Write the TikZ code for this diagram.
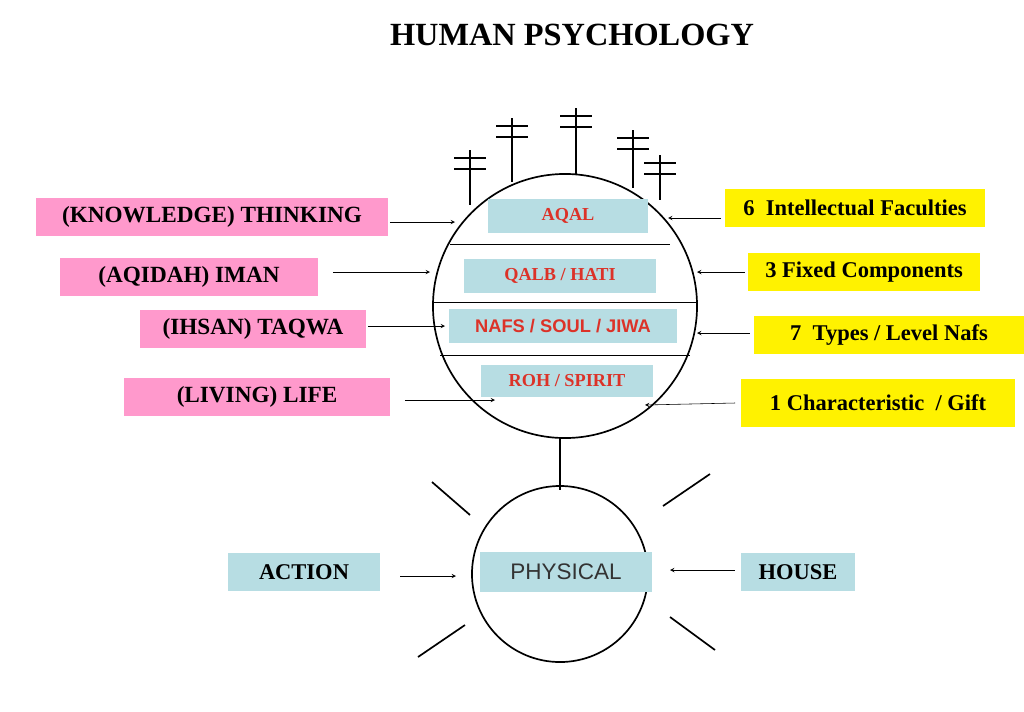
\documentclass[tikz,border=0pt]{standalone}
\usepackage{fontspec}
\setmainfont{Liberation Serif}
\setsansfont{Liberation Sans}
\usetikzlibrary{positioning, calc}
\usetikzlibrary{arrows}
\definecolor{pinkbox}{RGB}{255,153,204}
\definecolor{bluebox}{RGB}{183,221,227}
\definecolor{redtxt}{RGB}{220,50,40}
\tikzset{
  pinklabel/.style={fill=pinkbox,inner sep=0pt,font=\bfseries\fontsize{16.5}{18}\selectfont},
  yellowlabel/.style={fill=yellow,inner sep=0pt,font=\bfseries\fontsize{16}{18}\selectfont},
  part/.style={fill=bluebox,inner sep=0pt,text=redtxt,font=\bfseries\fontsize{13}{15}\selectfont},
  arr/.style={-stealth,thin},
  antenna/.style={thick}
}
\begin{document}
\begin{tikzpicture}[x=0.025cm,y=-0.025cm]
\useasboundingbox (0,0) rectangle (1024,711);
\node (title) at (572,35) {\bfseries\fontsize{23}{26}\selectfont HUMAN PSYCHOLOGY};
% upper circle
\node[draw,circle,very thick,minimum size=6.6cm] (soul) at (565,306) {};
\draw (450,244) -- (670,244);
\draw (432,302) -- (698,302);
\draw (440,355) -- (690,355);
\node[part,minimum width=4cm,minimum height=0.85cm] (aqal) at (568,216) {AQAL};
\node[part,minimum width=4.8cm,minimum height=0.85cm] (qalb) at (560,276) {QALB / HATI};
\node[part,minimum width=5.7cm,minimum height=0.85cm,font=\sffamily\bfseries\fontsize{13}{15}\selectfont] (nafs) at (563,326) {NAFS / SOUL / JIWA};
\node[part,minimum width=4.3cm,minimum height=0.82cm] (roh) at (567,381) {ROH / SPIRIT};
% antennas
\foreach \x/\t/\b in {470/150/205,512/118/182,576/108/175,633/130/188,660/155/200}{
  \draw[antenna] (\x,\t) -- (\x,\b);
  \draw[antenna] (\x-16,\t+8) -- (\x+16,\t+8);
  \draw[antenna] (\x-16,\t+19) -- (\x+16,\t+19);
}
% left labels
\node[pinklabel,minimum width=8.78cm,minimum height=0.95cm] (think) at (212,217) {(KNOWLEDGE) THINKING};
\node[pinklabel,minimum width=6.43cm,minimum height=0.93cm] (iman) at (189,277) {(AQIDAH) IMAN};
\node[pinklabel,minimum width=5.65cm,minimum height=0.93cm] (taqwa) at (253,329) {(IHSAN) TAQWA};
\node[pinklabel,minimum width=6.63cm,minimum height=0.93cm] (life) at (257,397) {(LIVING) LIFE};
\coordinate (tA) at (455,222);
\coordinate (tB) at (430,272);
\coordinate (tC) at (445,326);
\coordinate (tD) at (495,400);
\draw[arr] (think.east) ++(2,5) -- (tA);
\draw[arr] ($(iman.east)+(15,-5)$) -- (tB);
\draw[arr] (taqwa.east) ++(2,-3) -- (tC);
\draw[arr] ($(life.east)+(15,3)$) -- (tD);
% right labels
\node[yellowlabel,minimum width=6.48cm,minimum height=0.93cm] (facul) at (855,208) {6~ Intellectual Faculties};
\node[yellowlabel,minimum width=5.8cm,minimum height=0.93cm] (fixed) at (864,272) {3 Fixed Components};
\node[yellowlabel,minimum width=6.75cm,minimum height=0.95cm] (types) at (889,335) {7~ Types / Level Nafs};
\node[yellowlabel,minimum width=6.83cm,minimum height=1.2cm] (gift) at (878,403) {1 Characteristic ~/ Gift};
\coordinate (sA) at (668,218);
\coordinate (sB) at (697,272);
\coordinate (sC) at (697,333);
\coordinate (sD) at (645,405);
\draw[arr] ($(facul.west)+(-4,10)$) -- (sA);
\draw[arr] ($(fixed.west)+(-3,0)$) -- (sB);
\draw[arr] ($(types.west)+(-4,-2)$) -- (sC);
\draw[arr] ($(gift.west)+(-6,0)$) -- (sD);
% lower circle
\draw[very thick] (soul.south) ++(-5,0) -- (560,490);
\node[draw,circle,very thick,minimum size=4.4cm] (body) at (560,574) {};
\draw[very thick] (432,482) -- (470,515);
\draw[very thick] (710,474) -- (663,506);
\draw[very thick] (465,625) -- (418,657);
\draw[very thick] (670,617) -- (715,650);
\node[part,text=black!80,minimum width=4.28cm,minimum height=0.98cm,font=\sffamily\fontsize{16}{18}\selectfont] (phys) at (566,572) {PHYSICAL};
\node[part,text=black,minimum width=3.8cm,minimum height=0.93cm,font=\bfseries\fontsize{16}{18}\selectfont] (action) at (304,572) {ACTION};
\node[part,text=black,minimum width=2.85cm,minimum height=0.93cm,font=\bfseries\fontsize{16}{18}\selectfont] (house) at (798,572) {HOUSE};
\coordinate (pA) at (456,576);
\coordinate (pB) at (670,570);
\draw[arr] ($(action.east)+(20,4)$) -- (pA);
\draw[arr] ($(house.west)+(-6,-2)$) -- (pB);
\end{tikzpicture}
\end{document}
